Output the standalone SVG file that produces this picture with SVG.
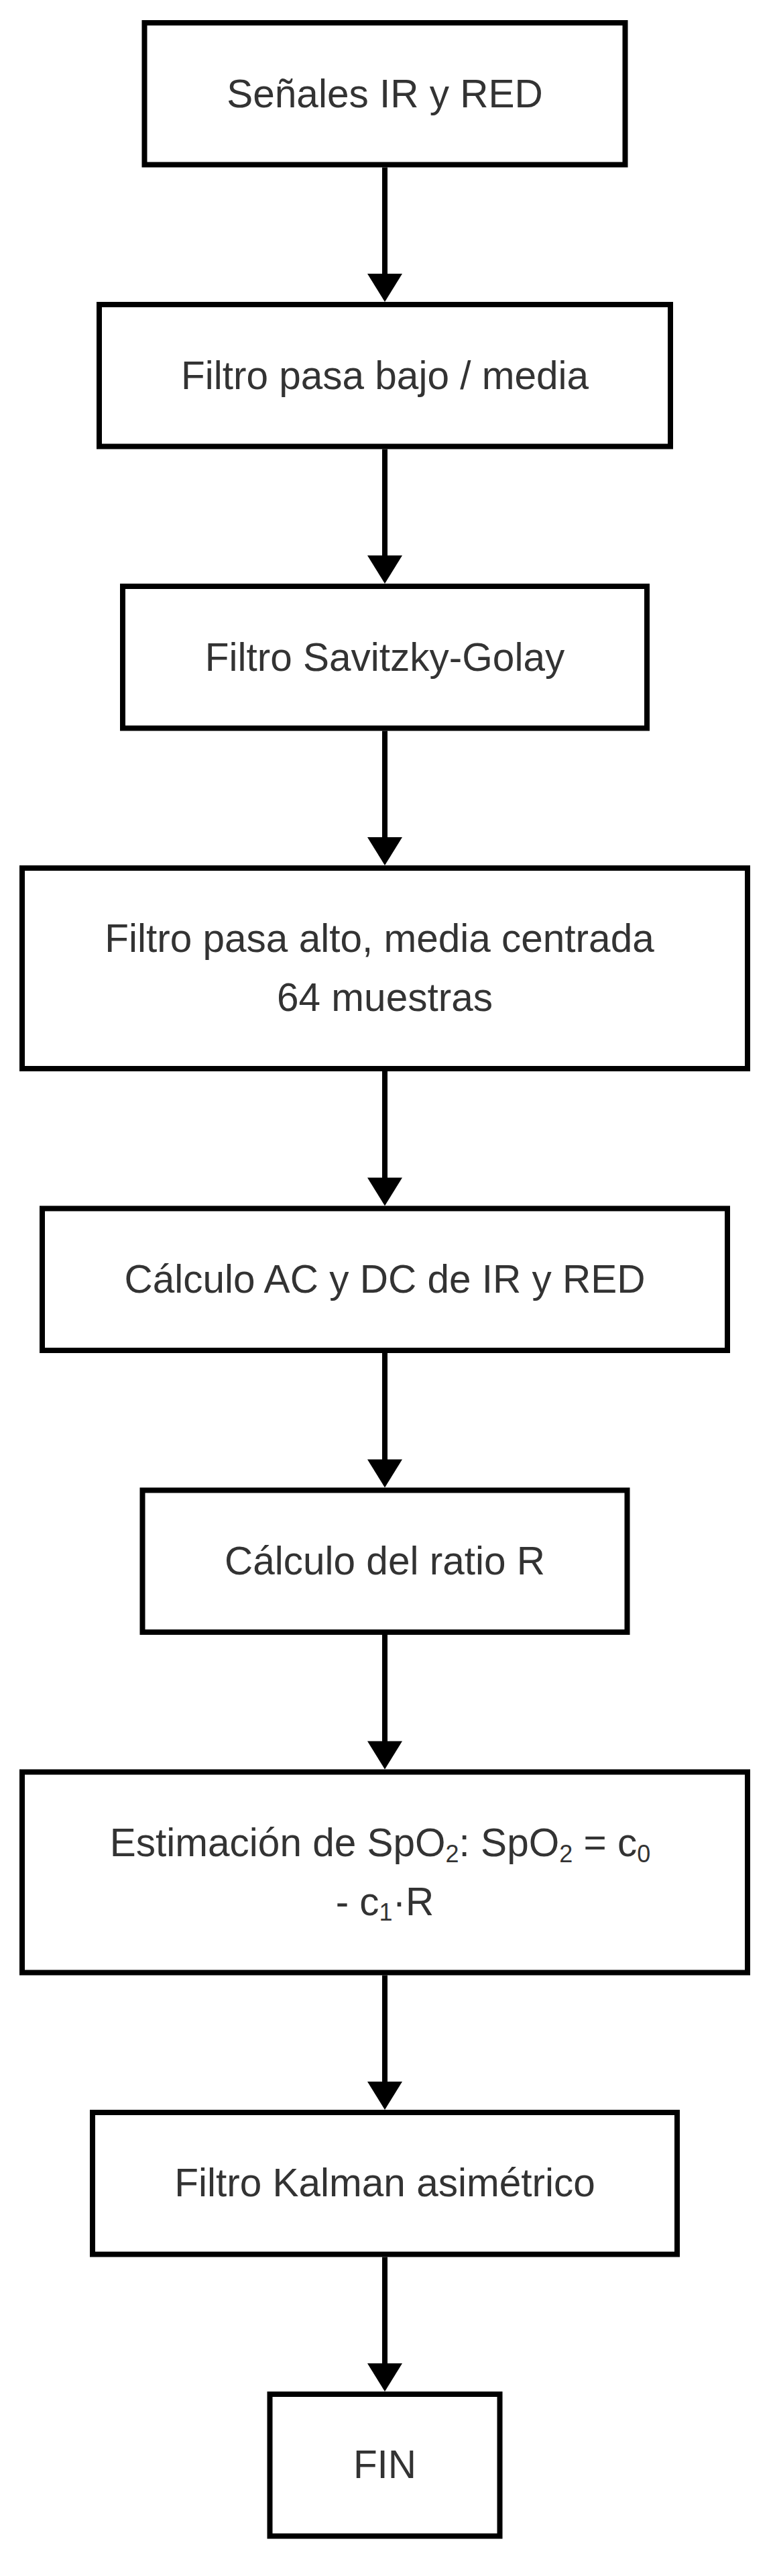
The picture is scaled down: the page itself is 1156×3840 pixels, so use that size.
<svg xmlns="http://www.w3.org/2000/svg" width="1156" height="3840" viewBox="0 0 1156 3840">
<style>
.box{fill:#fff;stroke:#000;stroke-width:8}
.lbl{font-family:"Liberation Sans",Arial,sans-serif;font-size:58.5px;fill:#333;text-anchor:middle}
.sub{font-size:36px}
.edge{stroke:#000;stroke-width:8;fill:none}
.head{fill:#000}
</style>
<rect width="1156" height="3840" fill="#fff"/>
<g id="connectors">
<line class="edge" x1="574" y1="249.5" x2="574" y2="410"/><polygon class="head" points="548,408 600,408 574,450"/>
<line class="edge" x1="574" y1="669.5" x2="574" y2="830"/><polygon class="head" points="548,828 600,828 574,870"/>
<line class="edge" x1="574" y1="1089.5" x2="574" y2="1250"/><polygon class="head" points="548,1248 600,1248 574,1290"/>
<line class="edge" x1="574" y1="1597" x2="574" y2="1757"/><polygon class="head" points="548,1755.5 600,1755.5 574,1797.5"/>
<line class="edge" x1="574" y1="2017" x2="574" y2="2177"/><polygon class="head" points="548,2175.5 600,2175.5 574,2217.5"/>
<line class="edge" x1="574" y1="2437" x2="574" y2="2597"/><polygon class="head" points="548,2595.5 600,2595.5 574,2637.5"/>
<line class="edge" x1="574" y1="2944.5" x2="574" y2="3105"/><polygon class="head" points="548,3103 600,3103 574,3145"/>
<line class="edge" x1="574" y1="3364.5" x2="574" y2="3525"/><polygon class="head" points="548,3523 600,3523 574,3565"/>
</g>
<g id="n1"><rect class="box" x="215.5" y="34" width="717" height="211.5"/><text class="lbl" x="574" y="159.5">Señales IR y RED</text></g>
<g id="n2"><rect class="box" x="148" y="454" width="852" height="211.5"/><text class="lbl" x="574" y="579.5">Filtro pasa bajo / media</text></g>
<g id="n3"><rect class="box" x="183" y="874" width="782" height="211.5"/><text class="lbl" x="574" y="999.5">Filtro Savitzky-Golay</text></g>
<g id="n4"><rect class="box" x="33" y="1294" width="1082" height="299"/><text class="lbl" x="566" y="1419">Filtro pasa alto, media centrada</text><text class="lbl" x="574" y="1507">64 muestras</text></g>
<g id="n5"><rect class="box" x="63" y="1801.5" width="1022" height="211.5"/><text class="lbl" x="574" y="1926.75">Cálculo AC y DC de IR y RED</text></g>
<g id="n6"><rect class="box" x="212.5" y="2221.5" width="723" height="211.5"/><text class="lbl" x="574" y="2346.75">Cálculo del ratio R</text></g>
<g id="n7"><rect class="box" x="33" y="2641.5" width="1082" height="299"/><text class="lbl" x="567" y="2766.5">Estimación de SpO<tspan class="sub" dy="9">2</tspan><tspan dy="-9">: SpO</tspan><tspan class="sub" dy="9">2</tspan><tspan dy="-9"> = c</tspan><tspan class="sub" dy="9">0</tspan></text><text class="lbl" x="574" y="2854.5">- c<tspan class="sub" dy="8">1</tspan><tspan dy="-8">·R</tspan></text></g>
<g id="n8"><rect class="box" x="138" y="3149" width="872" height="211.5"/><text class="lbl" x="574" y="3274.25">Filtro Kalman asimétrico</text></g>
<g id="n9"><rect class="box" x="402.5" y="3569" width="343" height="211.5"/><text class="lbl" x="574" y="3694.25">FIN</text></g>
</svg>
